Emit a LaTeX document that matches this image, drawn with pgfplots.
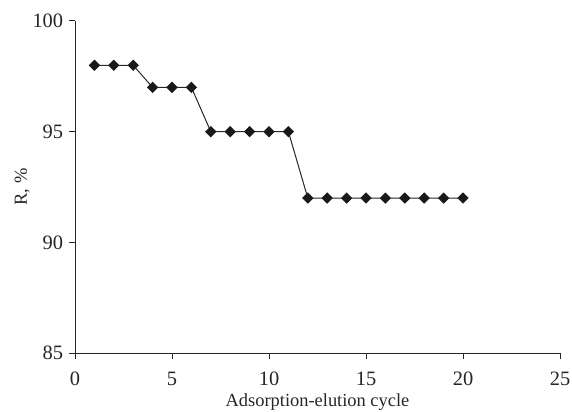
\documentclass[border=0pt]{standalone}
\usepackage{fontspec}
\setmainfont{Liberation Serif}
\usepackage{pgfplots}
\pgfplotsset{compat=1.18}
\begin{document}
\fontsize{18.5}{22}\selectfont
\begin{tikzpicture}
\useasboundingbox (-75bp,-59bp) rectangle (497bp,353bp);
\begin{axis}[
  scale only axis, width=485bp, height=332bp,
  at={(0,0)}, anchor=south west,
  xmin=0, xmax=25, ymin=85, ymax=100,
  axis x line*=bottom, axis y line*=left,
  axis line style={black!85, line width=1bp},
  xtick={0,5,10,15,20,25}, ytick={85,90,95,100},
  tick align=outside, major tick length=5.5bp,
  tick style={black!85, line width=1bp},
  tick label style={font=\fontsize{20.5}{24}\selectfont, text=black!85},
  xticklabel style={yshift=-7bp},
  /pgf/number format/assume math mode=true,
  xlabel={Adsorption-elution cycle},
  ylabel={R, \%},
  label style={font=\fontsize{18.5}{22}\selectfont, text=black!85},
  xlabel style={at={(axis description cs:0.5,-0.148)}, anchor=center},
  ylabel style={at={(axis description cs:-0.109,0.5)}, anchor=center},
]
\addplot[black!85, line width=1bp, mark=square*, mark size=3.5bp, mark options={solid, fill=black!90, draw=black!90, rotate=45}]
coordinates {(1,98)(2,98)(3,98)(4,97)(5,97)(6,97)(7,95)(8,95)(9,95)(10,95)(11,95)(12,92)(13,92)(14,92)(15,92)(16,92)(17,92)(18,92)(19,92)(20,92)};
\end{axis}
\end{tikzpicture}
\end{document}
